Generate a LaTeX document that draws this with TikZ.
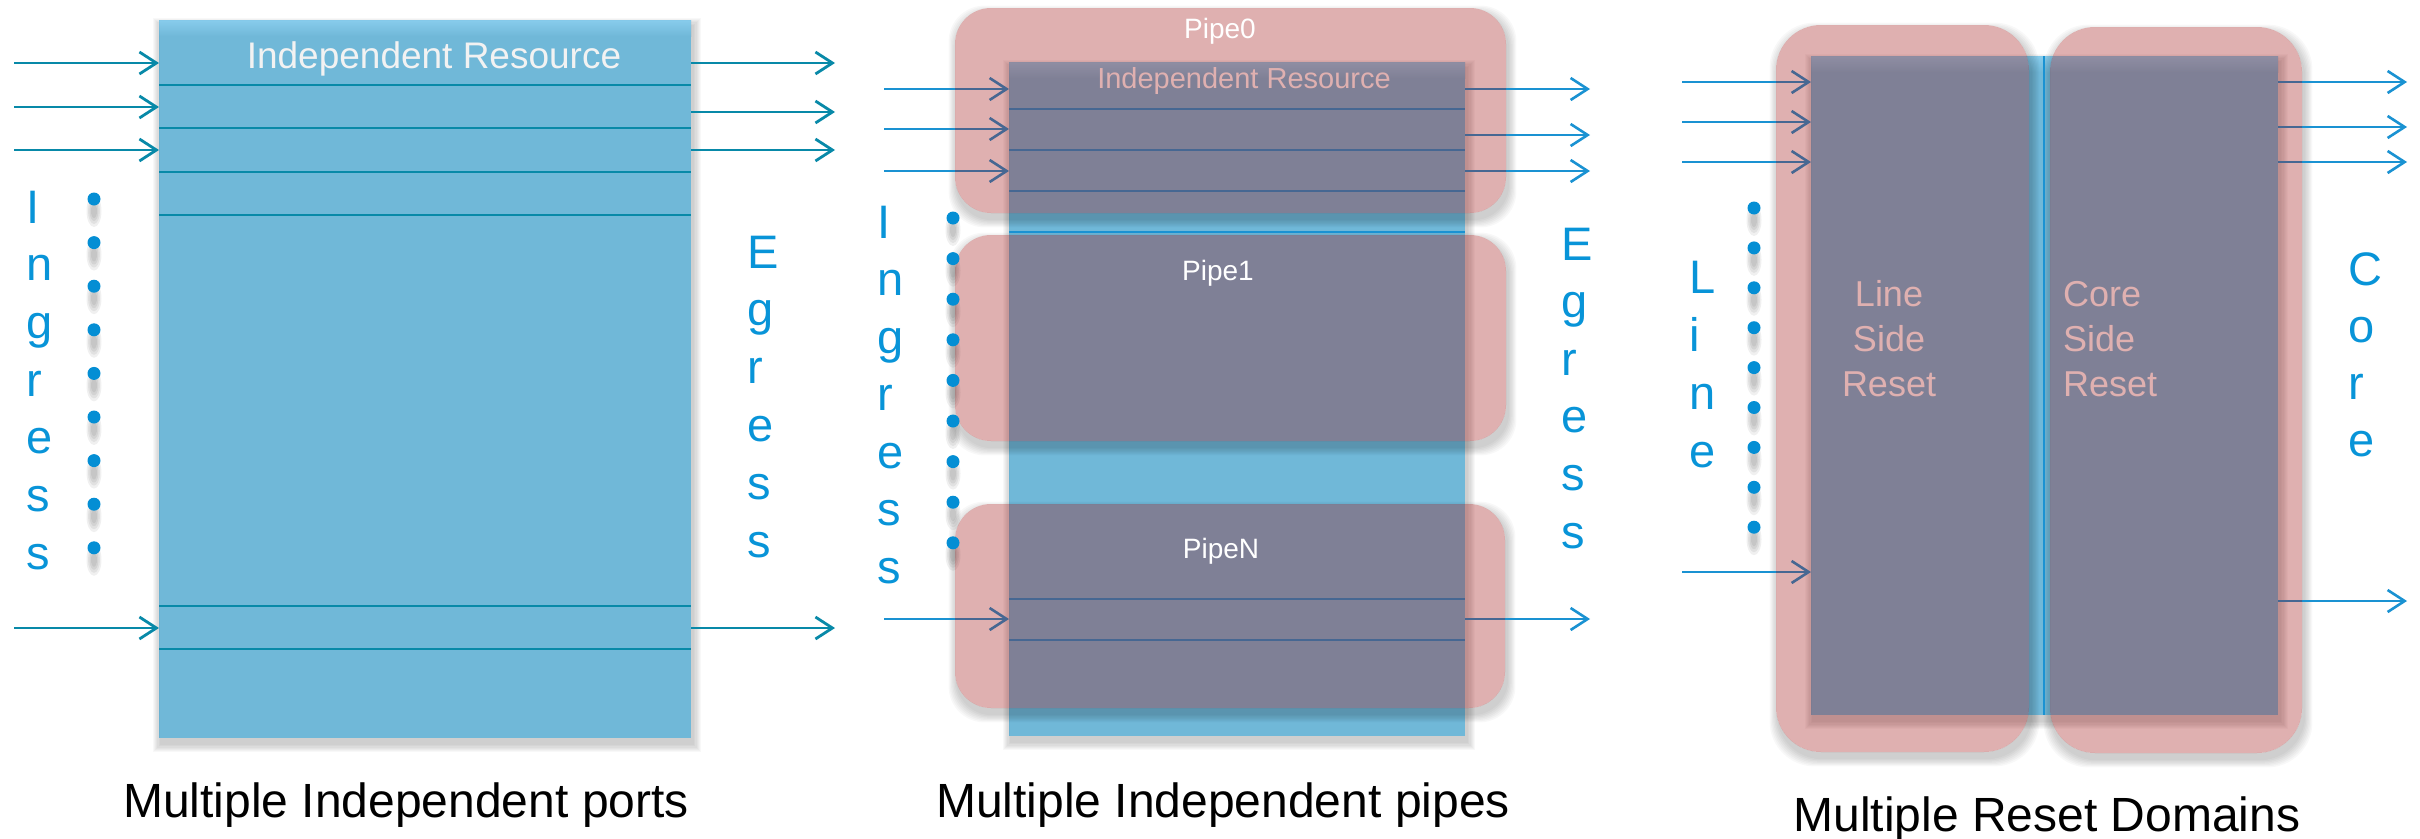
\documentclass[tikz,border=0pt]{standalone}
\usepackage{fontspec}
\setmainfont{Liberation Sans}
\usetikzlibrary{arrows.meta}

\definecolor{boxblue}{RGB}{112,184,216}
\definecolor{boxbluetop}{RGB}{136,204,236}
\definecolor{veilred}{RGB}{160,16,16}
\definecolor{tealflow}{RGB}{8,137,168}
\definecolor{flowblue}{RGB}{26,146,210}
\definecolor{letterblue}{RGB}{8,148,216}
\definecolor{dotblue}{RGB}{4,142,212}
\definecolor{softwhite}{RGB}{242,242,242}

% soft drop shadow that stays outside its shape
% #1 corner radius, #2 #3 top-left, #4 #5 bottom-right (y grows downwards)
\newcommand\softshadow[5]{%
  \begin{scope}[even odd rule,rounded corners=#1pt]
    \clip (-50,-50) rectangle (2470,900) (#2,#3) rectangle (#4,#5);
    \foreach \k in {1,...,7}
      \fill[black,opacity=0.028]
        ({#2+2-\k*1.2},{#3+6-\k*1.2}) rectangle ({#4+2+\k*1.2},{#5+6+\k*1.2});
  \end{scope}}

% column of nine dots with a blurred shadow under each
\newcommand\dotcolumn[4]{%
  \foreach \n in {0,...,8}{%
    \foreach \r/\s in {3/7,4.5/10,6/13,7.5/16}
      \fill[black,opacity=0.06] (#2,{#3+\n*#4+12}) ellipse ({\r} and {\s});
    \node[dotnode] (#1\n) at (#2,{#3+\n*#4}) {};
  }}

% a word written one letter per line
\newcommand\vword[5]{%
  \foreach \ch [count=\n from 0] in {#5}
    \node[vletter] (#1\n) at (#2,{#3+\n*#4}) {\ch};}

\begin{document}
\begin{tikzpicture}[x=1pt,y=-1pt,
  bluebox/.style={draw=none,fill=boxblue,inner sep=0pt,outer sep=0pt,anchor=north west},
  veil/.style={draw=none,fill=veilred,fill opacity=0.33,inner sep=0pt,outer sep=0pt,anchor=north west},
  flowA/.style={draw=tealflow,line width=2.8pt,-{Straight Barb[length=17pt,width=22pt]}},
  flowB/.style={draw=flowblue,line width=2.6pt,-{Straight Barb[length=17pt,width=22pt]}},
  laneA/.style={draw=tealflow,line width=2.6pt},
  laneB/.style={draw=flowblue,line width=2.4pt},
  dotnode/.style={circle,fill=dotblue,draw=none,minimum size=13pt,inner sep=0pt},
  vletter/.style={anchor=base west,inner sep=0pt,outer sep=0pt,text=letterblue,
    font=\fontsize{47}{56}\selectfont},
  caption/.style={anchor=base,inner sep=0pt,text=black,font=\fontsize{48}{58}\selectfont},
  boxtitle/.style={anchor=base,inner sep=0pt,text=softwhite},
  pipelabel/.style={anchor=base,inner sep=0pt,text=white,font=\fontsize{28}{34}\selectfont},
  resetword/.style={inner sep=0pt,text=white,font=\fontsize{36}{43}\selectfont}
]
\fill[white] (0,0) rectangle (2420,838);
\useasboundingbox (0,0) rectangle (2420,838);

% ---------- resource blocks ----------
\node[bluebox,minimum width=532pt,minimum height=718pt] (res1) at (159,20) {};
\node[bluebox,minimum width=456pt,minimum height=674pt] (res2) at (1009,62) {};
\node[bluebox,minimum width=467pt,minimum height=659pt] (res3) at (1811,56) {};
\shade[top color=boxbluetop,bottom color=boxblue] (159,20) rectangle (691,36);
\shade[top color=boxbluetop,bottom color=boxblue] (1009,62) rectangle (1465,78);
\shade[top color=boxbluetop,bottom color=boxblue] (1811,56) rectangle (2278,72);

% ---------- shadows ----------
\softshadow{0}{159}{20}{691}{738}
\softshadow{0}{1009}{62}{1465}{736}
\softshadow{0}{1811}{56}{2278}{715}
\softshadow{36}{955}{8}{1506}{213}
\softshadow{36}{955}{235}{1506}{441}
\softshadow{36}{955}{504}{1505}{708}
\softshadow{45}{1776}{25}{2029}{752}
\softshadow{45}{2050}{27}{2302}{753}

% ---------- panel 1: independent ports ----------
\foreach \yy [count=\n] in {85,128,172,215,606,649}{
  \coordinate (pA-l\n) at (0,\yy);
  \draw[laneA] (res1.west |- pA-l\n) -- (res1.east |- pA-l\n);
}
\foreach \yy [count=\n] in {63,107,150,628}{
  \coordinate (pA-in\n) at (14,\yy);
  \draw[flowA] (pA-in\n) -- (pA-in\n -| res1.west);
}
\foreach \yy [count=\n] in {63,112,150,628}{
  \coordinate (pA-out\n) at (835,\yy);
  \draw[flowA] (pA-out\n -| res1.east) -- (pA-out\n);
}
\node[boxtitle,font=\fontsize{37}{44}\selectfont] (title1) at (434,68) {Independent Resource};

% ---------- panel 2: independent pipes ----------
\foreach \yy [count=\n] in {109,150,191,232,599,640}{
  \coordinate (pB-l\n) at (0,\yy);
  \draw[laneB] (res2.west |- pB-l\n) -- (res2.east |- pB-l\n);
}
\foreach \yy [count=\n] in {89,129,171,619}{
  \coordinate (pB-in\n) at (884,\yy);
  \draw[flowB] (pB-in\n) -- (pB-in\n -| res2.west);
}
\foreach \yy [count=\n] in {89,135,171,619}{
  \coordinate (pB-out\n) at (1590,\yy);
  \draw[flowB] (pB-out\n -| res2.east) -- (pB-out\n);
}
\node[boxtitle,text=white,font=\fontsize{29}{35}\selectfont] (title2) at (1244,88) {Independent Resource};

% ---------- panel 3: reset domains ----------
\coordinate (divtop) at (2044,56);
\coordinate (divbot) at (2044,715);
\draw[laneB,line width=2pt] (divtop) -- (divbot);
\foreach \yy [count=\n] in {82,122,162,572}{
  \coordinate (pC-in\n) at (1682,\yy);
  \draw[flowB] (pC-in\n) -- (pC-in\n -| res3.west);
}
\foreach \yy [count=\n] in {82,127,162,601}{
  \coordinate (pC-out\n) at (2407,\yy);
  \draw[flowB] (pC-out\n -| res3.east) -- (pC-out\n);
}
\node[resetword,anchor=base] (ls1) at (1889,306) {Line};
\node[resetword,anchor=base] (ls2) at (1889,351) {Side};
\node[resetword,anchor=base] (ls3) at (1889,396) {Reset};
\node[resetword,anchor=base west] (cs1) at (2063,306) {Core};
\node[resetword,anchor=base west] (cs2) at (2063,351) {Side};
\node[resetword,anchor=base west] (cs3) at (2063,396) {Reset};

% ---------- translucent domain veils ----------
\node[veil,rounded corners=36pt,minimum width=551pt,minimum height=205pt] (pipe0) at (955,8) {};
\node[veil,rounded corners=36pt,minimum width=551pt,minimum height=206pt] (pipe1) at (955,235) {};
\node[veil,rounded corners=36pt,minimum width=550pt,minimum height=204pt] (pipeN) at (955,504) {};
\node[veil,rounded corners=45pt,minimum width=253pt,minimum height=727pt] (lsr) at (1776,25) {};
\node[veil,rounded corners=45pt,minimum width=252pt,minimum height=726pt] (csr) at (2050,27) {};

\node[pipelabel] (lab0) at (1220,38) {Pipe0};
\node[pipelabel] (lab1) at (1218,280) {Pipe1};
\node[pipelabel] (labN) at (1221,558) {PipeN};

% ---------- dots ----------
\dotcolumn{dA}{94}{199}{43.6}
\dotcolumn{dB}{953}{218}{40.6}
\dotcolumn{dC}{1754}{208}{39.9}

% ---------- side words ----------
\vword{ingA}{26}{223}{57.7}{I,n,g,r,e,s,s}
\vword{egrA}{747}{268}{57.8}{E,g,r,e,s,s}
\vword{ingB}{877}{238}{57.5}{I,n,g,r,e,s,s}
\vword{egrB}{1561}{260}{57.6}{E,g,r,e,s,s}
\vword{lineC}{1689}{293}{58}{L,i,n,e}
\vword{coreC}{2348}{285}{57}{C,o,r,e}

% ---------- captions ----------
\node[caption] (cap1) at (406,817) {Multiple Independent ports};
\node[caption] (cap2) at (1223,817) {Multiple Independent pipes};
\node[caption] (cap3) at (2047,831) {Multiple Reset Domains};
\end{tikzpicture}
\end{document}
